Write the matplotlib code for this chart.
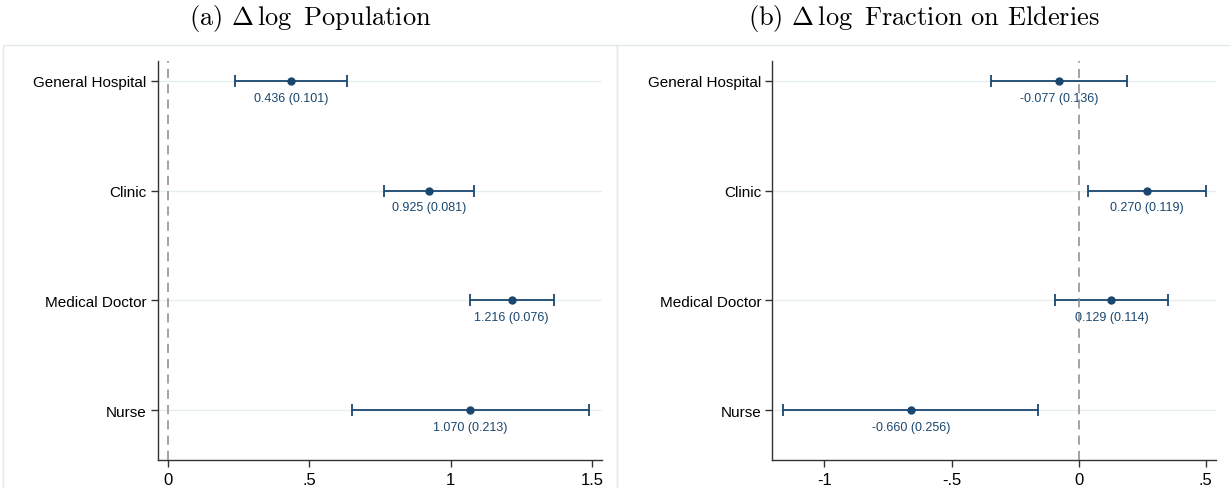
import matplotlib.pyplot as plt
import matplotlib.patches as mpatches
import numpy as np

plt.rcParams['font.family'] = ['Liberation Sans', 'DejaVu Sans']
plt.rcParams['mathtext.fontset'] = 'cm'

categories = ["General Hospital", "Clinic", "Medical Doctor", "Nurse"]

# coefficient estimates and standard errors
pop_est = [0.436, 0.925, 1.216, 1.070]
pop_se = [0.101, 0.081, 0.076, 0.213]
eld_est = [-0.077, 0.270, 0.129, -0.660]
eld_se = [0.136, 0.119, 0.114, 0.256]

pop_ticks = [0, 0.5, 1, 1.5]
pop_ticklabels = ["0", ".5", "1", "1.5"]
eld_ticks = [-1, -0.5, 0, 0.5]
eld_ticklabels = ["-1", "-.5", "0", ".5"]

navy = "#1a476f"
W, H = 1231, 489

fig = plt.figure(figsize=(W / 100, H / 100), dpi=100)

# light frames around each panel
for x0, x1 in [(3, 617), (617, 1240)]:
    fig.patches.append(mpatches.Rectangle((x0 / W, -0.05), (x1 - x0) / W, 1.05 - 46 / H,
                                          transform=fig.transFigure, fill=False,
                                          edgecolor="#e2eaed", linewidth=1.0, zorder=0))


def coef_panel(ax, est, se, ticks, ticklabels, xlim, title, title_x):
    est = np.array(est)
    se = np.array(se)
    y = np.arange(len(categories))
    lo = est - 1.96 * se
    hi = est + 1.96 * se

    for yy in y:
        ax.axhline(yy, color="#e6eef1", linewidth=1.0, zorder=0)
    ax.axvline(0, color="#8a8a8a", linewidth=1.1, linestyle=(0, (6, 4)), zorder=5)

    ax.errorbar(est, y, xerr=[est - lo, hi - est], fmt="o", color=navy,
                markersize=5, elinewidth=1.3, capsize=4, capthick=1.3, zorder=3)
    for e, s, yy in zip(est, se, y):
        ax.annotate(f"{e:.3f} ({s:.3f})", (e, yy), xytext=(0, -12),
                    textcoords="offset points", ha="center", va="center",
                    fontsize=9, color=navy, zorder=4)

    ax.set_yticks(y)
    ax.set_yticklabels(categories, fontsize=11)
    ax.set_ylim(3 + 50 / 109.7, -20 / 109.7)
    ax.set_xticks(ticks)
    ax.set_xticklabels(ticklabels, fontsize=12)
    ax.set_xlim(*xlim)
    for side in ["top", "right"]:
        ax.spines[side].set_visible(False)
    for side in ["left", "bottom"]:
        ax.spines[side].set_color("#333333")
        ax.spines[side].set_linewidth(1.0)
    ax.tick_params(axis="both", length=5, width=1.0, color="#333333", pad=3)
    ax.tick_params(axis="x", pad=4)
    fig.text(title_x, 1 - 18 / H, title, ha="center", va="center",
             fontsize=19, family="cmr10")


ax1 = fig.add_axes([157.7 / W, 1 - 461 / H, 444 / W, 399 / H])
coef_panel(ax1, pop_est, pop_se, pop_ticks, pop_ticklabels, (-0.035, 1.534),
           r"(a) $\Delta\,\log$ Population", 310 / W)

ax2 = fig.add_axes([772.4 / W, 1 - 461 / H, 443.6 / W, 399 / H])
coef_panel(ax2, eld_est, eld_se, eld_ticks, eld_ticklabels, (-1.205, 0.541),
           r"(b) $\Delta\,\log$ Fraction on Elderies", 924 / W)

fig.savefig("out.png", dpi=100, facecolor="white")
